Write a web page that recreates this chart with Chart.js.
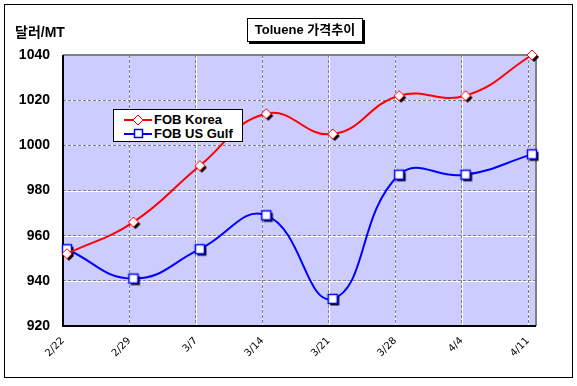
<!DOCTYPE html>
<html>
<head>
<meta charset="utf-8">
<script src="https://cdn.jsdelivr.net/npm/chart.js@4/dist/chart.umd.min.js"></script>
<style>
  body { margin: 0; background: #fff; }
  #wrap { position: relative; width: 577px; height: 386px; }
  .txt { position: absolute; font-family: "Liberation Sans", "Noto Sans CJK KR", Arial, sans-serif; font-weight: bold; color: #000; white-space: nowrap; }
  #unit { left: 15px; top: 21px; font-size: 14px; }
  #title { left: 247px; top: 18px; width: 114px; height: 22px; border: 1px solid #000; box-shadow: 2px 2px 0 #000; background: #fff; font-size: 13px; line-height: 22px; text-align: center; }
  #legend { left: 113px; top: 109px; width: 128px; height: 31px; border: 1px solid #000; background: #fff; font-size: 13px; }
  #legend .row { position: absolute; left: 0; height: 14px; line-height: 14px; }
  #legend svg { position: absolute; left: 10px; top: 0; }
  #legend span { position: absolute; left: 40px; top: 0; }
</style>
</head>
<body>
<div id="wrap">
  <canvas id="tolueneChart"></canvas>
  <div class="txt" id="unit">달러/MT</div>
  <div class="txt" id="title">Toluene 가격추이</div>
  <div class="txt" id="legend">
    <div class="row" style="top:3px;width:128px">
      <svg width="28" height="14"><line x1="0" y1="7" x2="28" y2="7" stroke="#ff0000" stroke-width="2"/><polygon points="16,4 19,7 16,10 13,7" fill="#000"/><polygon points="14,2 19,7 14,12 9,7" fill="#fff" stroke="#ff0000" stroke-width="1"/></svg>
      <span>FOB Korea</span>
    </div>
    <div class="row" style="top:17px;width:128px">
      <svg width="28" height="14"><line x1="0" y1="7" x2="28" y2="7" stroke="#0000ff" stroke-width="2"/><rect x="10.5" y="2.5" width="8" height="8" fill="#fff" stroke="#0000ff" stroke-width="1.5"/></svg>
      <span>FOB US Gulf</span>
    </div>
  </div>
</div>
<script>
const ctx = document.getElementById('tolueneChart');

let dates = ['2/22', '2/29', '3/7', '3/14', '3/21', '3/28', '4/4', '4/11'];
let fobKorea = [952, 966, 991, 1014, 1005, 1022, 1022, 1040];
let fobUsGulf = [954, 941, 954, 969, 932, 987, 987, 996];
let yTicks = [920, 940, 960, 980, 1000, 1020, 1040];

// excel-like markers with a black drop shadow
makeMarker = (shape, color) => {
    const c = document.createElement('canvas');
    c.width = 18; c.height = 18;
    const g = c.getContext('2d');
    const draw = (cx, cy) => {
        g.beginPath();
        if (shape === 'diamond') {
            g.moveTo(cx, cy - 5); g.lineTo(cx + 5, cy); g.lineTo(cx, cy + 5); g.lineTo(cx - 5, cy);
        } else {
            g.rect(cx - 4.5, cy - 4.5, 9, 9);
        }
        g.closePath();
    };
    g.fillStyle = '#000';
    draw(11, 11); g.fill();
    g.fillStyle = '#fff';
    g.strokeStyle = color;
    g.lineWidth = shape === 'diamond' ? 1 : 1.5;
    draw(9, 9); g.fill(); g.stroke();
    return c;
};

const xShift = 0.06;

const frame = {
    id: 'frame',
    beforeDraw(chart) {
        const c = chart.ctx, a = chart.chartArea;
        c.save();
        c.fillStyle = '#fff';
        c.fillRect(0, 0, chart.width, chart.height);
        c.strokeStyle = '#000';
        c.lineWidth = 1;
        c.strokeRect(4.5, 4.5, 568, 373);
        c.fillStyle = '#ccccff';
        c.fillRect(a.left, a.top, a.right - a.left, a.bottom - a.top);
        // white under the dashed grid
        c.strokeStyle = '#fff';
        chart.scales.x.ticks.forEach(t => {
            const px = Math.round(chart.scales.x.getPixelForValue(t.value)) + 0.5;
            c.beginPath(); c.moveTo(px, a.top); c.lineTo(px, a.bottom); c.stroke();
        });
        chart.scales.y.ticks.forEach(t => {
            const py = Math.round(chart.scales.y.getPixelForValue(t.value)) + 0.5;
            c.beginPath(); c.moveTo(a.left, py); c.lineTo(a.right, py); c.stroke();
        });
        c.restore();
    },
    beforeDatasetsDraw(chart) {
        const c = chart.ctx, a = chart.chartArea;
        c.save();
        c.strokeStyle = '#808080';
        c.lineWidth = 2;
        c.beginPath();
        c.moveTo(a.left, a.top); c.lineTo(a.right, a.top); c.lineTo(a.right, a.bottom);
        c.stroke();
        c.strokeStyle = '#000';
        c.beginPath();
        c.moveTo(a.left, a.top); c.lineTo(a.left, a.bottom); c.lineTo(a.right, a.bottom);
        c.stroke();
        c.restore();
    }
};

var myChart = new Chart(ctx.getContext('2d'), {
    type: 'line',
    data: {
        datasets: [{
            label: 'FOB Korea',
            data: fobKorea.map((v, i) => ({x: i, y: v})),
            borderColor: '#ff0000',
            borderWidth: 2,
            pointStyle: makeMarker('diamond', '#ff0000'),
            tension: 0.45,
            clip: false
        }, {
            label: 'FOB US Gulf',
            data: fobUsGulf.map((v, i) => ({x: i, y: v})),
            borderColor: '#0000ff',
            borderWidth: 2,
            pointStyle: makeMarker('square', '#0000ff'),
            tension: 0.45,
            clip: false
        }]
    },
    options: {
        responsive: true,
        maintainAspectRatio: false,
        animation: false,
        layout: { padding: { left: 0, top: 55, right: 41, bottom: 0 } },
        plugins: {
            legend: { display: false },
            tooltip: { enabled: false },
        },
        scales: {
            x: {
                type: 'linear',
                min: -xShift,
                max: dates.length - 1 + xShift,
                afterBuildTicks: (scale) => {
                    scale.ticks = dates.map((d, i) => ({value: i - xShift}));
                },
                afterFit: (scale) => { scale.height = 60; },
                grid: {
                    color: '#808080',
                    lineWidth: 1,
                    drawTicks: false
                },
                border: { display: false, dash: [3, 2] },
                ticks: {
                    autoSkip: false,
                    minRotation: 45,
                    maxRotation: 45,
                    padding: 9,
                    color: '#000',
                    font: { family: '"DejaVu Sans", Tahoma', size: 10 },
                    callback: (v) => dates[Math.round(v + xShift)]
                }
            },
            y: {
                min: 920,
                max: 1040,
                afterBuildTicks: (scale) => {
                    scale.ticks = yTicks.map(v => ({value: v}));
                },
                afterFit: (scale) => { scale.width = 63; },
                grid: {
                    color: '#808080',
                    lineWidth: 1,
                    drawTicks: false
                },
                border: { display: false, dash: [3, 2] },
                ticks: {
                    padding: 13,
                    color: '#000',
                    font: { family: '"Liberation Sans", Arial', size: 14, weight: 'bold' },
                    callback: (v) => String(v)
                }
            }
        }
    },
    plugins: [frame]
});
</script>
</body>
</html>
